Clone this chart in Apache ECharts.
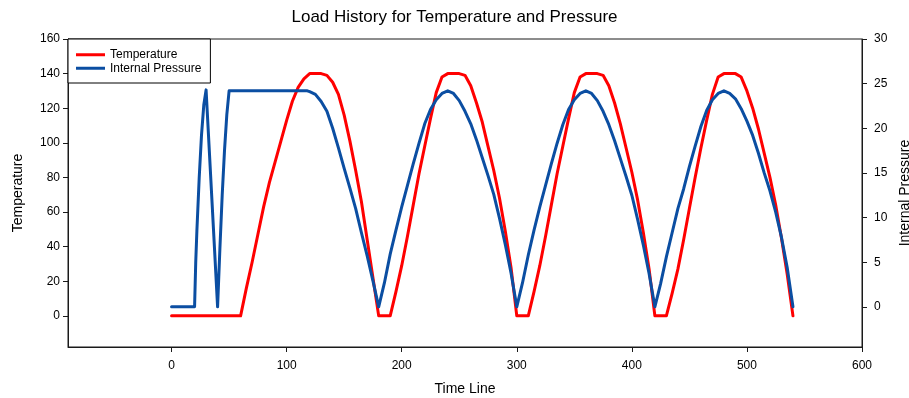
<!DOCTYPE html>
<html>
<head>
<meta charset="utf-8">
<script src="https://cdn.jsdelivr.net/npm/echarts@6/dist/echarts.min.js"></script>
<style>
html,body{margin:0;padding:0;background:#fff;}
#chart{width:909px;height:398px;}
</style>
</head>
<body>
<div id="chart"></div>
<script>
// ---- data ----
const tempTime = [0, 60,
  65, 70, 75, 80, 85, 90, 95, 100, 105, 110, 115, 120, 125, 130, 135, 140, 145, 150, 155, 160, 165, 170, 175, 180,
  190, 195, 200, 205, 210, 215, 220, 225, 230, 235, 240, 245, 250, 255, 260, 265, 270, 275, 280, 285, 290, 295, 300,
  310, 315, 320, 325, 330, 335, 340, 345, 350, 355, 360, 365, 370, 375, 380, 385, 390, 395, 400, 405, 410, 415, 420,
  430, 435, 440, 445, 450, 455, 460, 465, 470, 475, 480, 485, 490, 495, 500, 505, 510, 515, 520, 525, 530, 535, 540];
const tempValues = [0, 0,
  16, 31, 47, 63, 77, 89, 101, 113, 124, 132, 137, 140, 140, 140, 139, 135, 128, 116, 101, 84, 66, 44, 22, 0,
  0, 14, 29, 46, 64, 82, 98, 114, 129, 138, 140, 140, 140, 139, 133, 123, 112, 98, 84, 68, 49, 28, 0,
  0, 14, 29, 46, 64, 82, 98, 114, 129, 138, 140, 140, 140, 139, 133, 123, 111, 97, 83, 67, 48, 27, 0,
  0, 13, 27, 44, 62, 80, 97, 113, 128, 138, 140, 140, 140, 138, 130, 120, 108, 94, 80, 64, 45, 24, 0];

const pressTime = [0, 20, 21, 22, 24, 26, 28, 30, 40, 42, 44, 46, 48, 50,
  118, 120, 125, 130, 135, 140, 145, 150, 155, 160, 165, 170, 175, 180,
  185, 190, 195, 200, 205, 210, 215, 220, 225, 230, 235, 240, 245, 250, 255, 260, 265, 270, 275, 280, 285, 290, 295, 300,
  305, 310, 315, 320, 325, 330, 335, 340, 345, 350, 355, 360, 365, 370, 375, 380, 385, 390, 395, 400, 405, 410, 415, 420,
  425, 430, 435, 440, 445, 450, 455, 460, 465, 470, 475, 480, 485, 490, 495, 500, 505, 510, 515, 520, 525, 530, 535, 540];
const pressValues = [0, 0, 5, 8.5, 14.4, 19.2, 22.6, 24.3, 0, 6.5, 12.5, 17.5, 21.5, 24.2,
  24.2, 24.1, 23.8, 23.0, 21.9, 20.0, 17.8, 15.5, 13.3, 11.0, 8.3, 5.7, 2.9, 0,
  2.7, 5.9, 8.6, 11.2, 13.6, 16.0, 18.3, 20.5, 22.1, 23.2, 23.9, 24.2, 23.9, 23.1, 21.9, 20.5, 18.7, 16.7, 14.7, 12.6, 9.9, 7.0, 3.8, 0,
  2.7, 5.8, 8.6, 11.2, 13.6, 16.0, 18.3, 20.4, 22.1, 23.2, 23.9, 24.2, 23.9, 23.1, 21.9, 20.4, 18.6, 16.6, 14.6, 12.5, 9.8, 6.9, 3.7, 0,
  2.6, 5.6, 8.3, 11.0, 13.2, 15.7, 18.0, 20.2, 22.0, 23.2, 23.9, 24.2, 23.9, 23.3, 22.2, 20.8, 19.2, 17.2, 15.0, 13.0, 10.6, 7.8, 4.4, 0];

const xTicks = [0, 100, 200, 300, 400, 500, 600];
const tempTicks = [0, 20, 40, 60, 80, 100, 120, 140, 160];
const pressTicks = [0, 5, 10, 15, 20, 25, 30];

const titleText = 'Load History for Temperature and Pressure';
const xName = 'Time Line';
const tempName = 'Temperature';
const pressName = 'Internal Pressure';

// ---- chart ----
const FONT = '"Liberation Sans", Arial, sans-serif';
const AXC = '#1a1a1a';
const RED = '#ff0000';
const BLUE = '#0b4ea2';
const chart = echarts.init(document.getElementById('chart'), null, {renderer: 'canvas'});

function pairs(xs, ys) { return xs.map((x, i) => [x, ys[i]]); }

chart.setOption({
  animation: false,
  backgroundColor: '#fff',
  textStyle: {fontFamily: FONT},
  title: {
    text: titleText, left: 'center', top: 4,
    textStyle: {fontFamily: FONT, fontSize: 17, fontWeight: 'normal', color: '#000'}
  },
  legend: {
    left: 68, top: 39, orient: 'vertical',
    itemWidth: 29, itemHeight: 3, itemGap: 0,
    padding: [9, 9, 8, 8],
    borderColor: '#000', borderWidth: 1, backgroundColor: '#fff',
    textStyle: {fontFamily: FONT, fontSize: 12, color: '#000', lineHeight: 13.5},
    data: [
      {name: tempName, icon: 'rect', itemStyle: {color: RED}},
      {name: pressName, icon: 'rect', itemStyle: {color: BLUE}}
    ]
  },
  grid: {left: 68, right: 47, top: 39, bottom: 51, show: true, borderColor: AXC, borderWidth: 1,
         outerBoundsMode: 'none', containLabel: false},
  xAxis: {
    type: 'value', min: -90, max: 600,
    name: xName, nameLocation: 'middle', nameGap: 35,
    nameTextStyle: {fontFamily: FONT, fontSize: 14, color: '#000'},
    axisLine: {show: true, onZero: false, lineStyle: {color: AXC, width: 1}},
    axisTick: {show: true, inside: false, length: 5, customValues: xTicks, lineStyle: {color: AXC}},
    axisLabel: {customValues: xTicks, margin: 13, fontFamily: FONT, fontSize: 12, color: '#000'},
    splitLine: {show: false}
  },
  yAxis: [{
    type: 'value', min: -18, max: 160, position: 'left',
    name: tempName, nameLocation: 'middle', nameGap: 43,
    nameTextStyle: {fontFamily: FONT, fontSize: 14, color: '#000'},
    axisLine: {show: true, onZero: false, lineStyle: {color: AXC, width: 1}},
    axisTick: {show: true, length: 5, customValues: tempTicks, lineStyle: {color: AXC}},
    axisLabel: {customValues: tempTicks, margin: 8, fontFamily: FONT, fontSize: 12, color: '#000'},
    splitLine: {show: false}
  }, {
    type: 'value', min: -4.5, max: 30, position: 'right',
    name: pressName, nameLocation: 'middle', nameGap: 36,
    nameTextStyle: {fontFamily: FONT, fontSize: 14, color: '#000'},
    axisLine: {show: true, onZero: false, lineStyle: {color: AXC, width: 1}},
    axisTick: {show: true, length: 5, customValues: pressTicks, lineStyle: {color: AXC}},
    axisLabel: {customValues: pressTicks, margin: 12, fontFamily: FONT, fontSize: 12, color: '#000'},
    splitLine: {show: false}
  }],
  series: [{
    name: tempName, type: 'line', yAxisIndex: 0,
    data: pairs(tempTime, tempValues),
    symbol: 'none', showSymbol: false, smooth: false,
    lineStyle: {color: RED, width: 3, join: 'round', cap: 'round'},
    itemStyle: {color: RED}
  }, {
    name: pressName, type: 'line', yAxisIndex: 1,
    data: pairs(pressTime, pressValues),
    symbol: 'none', showSymbol: false, smooth: false,
    lineStyle: {color: BLUE, width: 3, join: 'round', cap: 'round'},
    itemStyle: {color: BLUE}
  }]
});
</script>
</body>
</html>
